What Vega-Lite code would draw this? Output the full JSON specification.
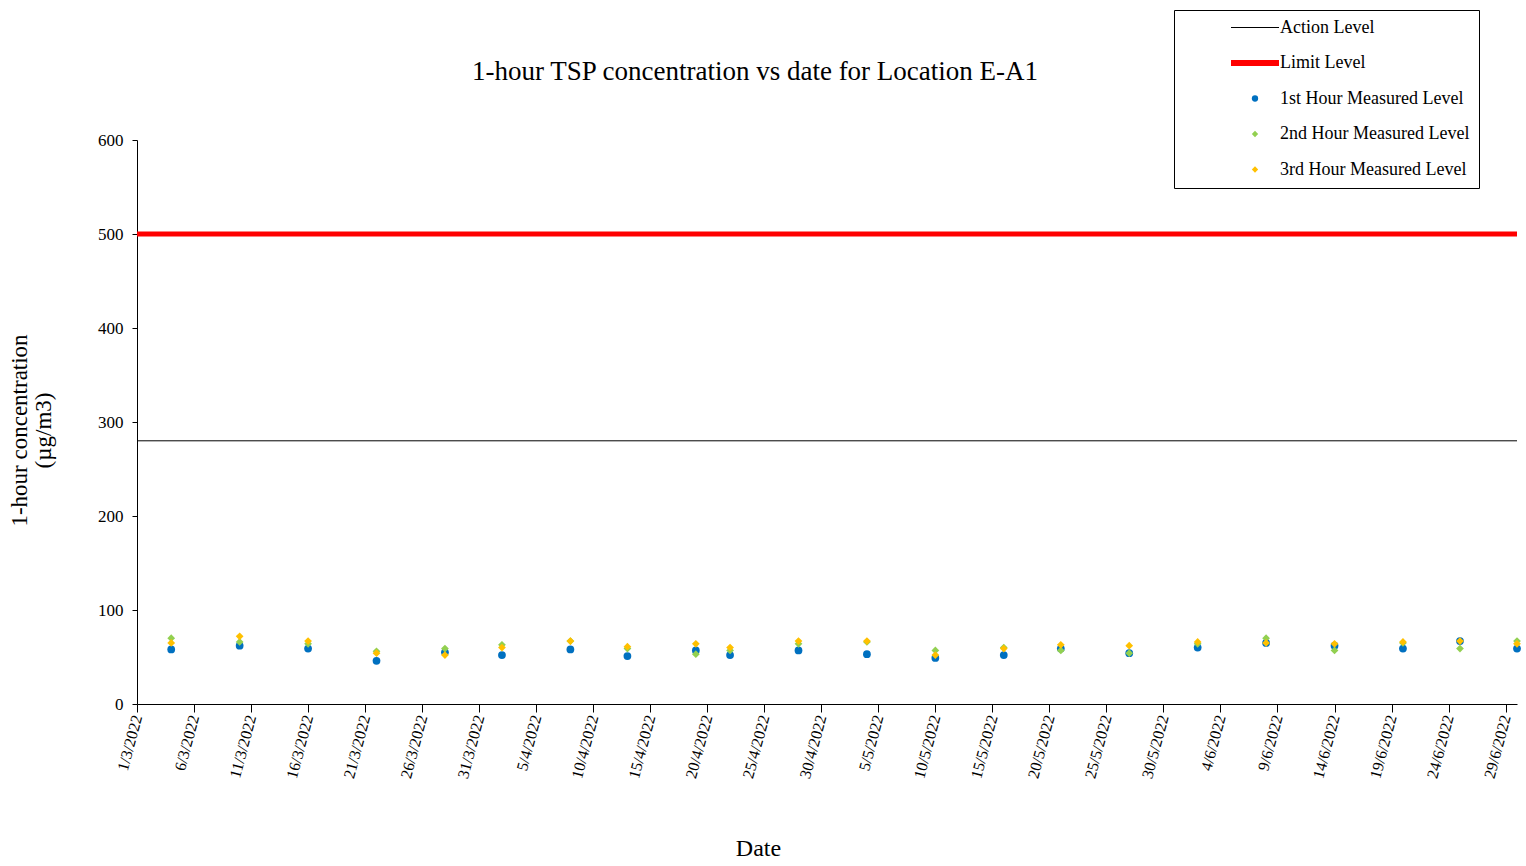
{
  "$schema": "https://vega.github.io/schema/vega-lite/v6.json",
  "autosize": "none",
  "width": 1380,
  "height": 564,
  "padding": {"left": 137, "top": 140, "right": 9, "bottom": 162},
  "background": "white",
  "title": {
    "text": "1-hour TSP concentration vs date for Location E-A1",
    "font": "Liberation Serif",
    "fontSize": 27,
    "fontWeight": "normal",
    "color": "#000000",
    "frame": "group",
    "anchor": "middle",
    "dx": -72,
    "baseline": "alphabetic",
    "offset": -97
  },
  "datasets": {
    "levels": [
      {"series": "Action Level", "value": 280},
      {"series": "Limit Level", "value": 500}
    ],
    "points": [
      {"date": "2022/03/04", "series": "1st Hour Measured Level", "value": 58},
      {"date": "2022/03/10", "series": "1st Hour Measured Level", "value": 62},
      {"date": "2022/03/16", "series": "1st Hour Measured Level", "value": 59},
      {"date": "2022/03/22", "series": "1st Hour Measured Level", "value": 46},
      {"date": "2022/03/28", "series": "1st Hour Measured Level", "value": 55},
      {"date": "2022/04/02", "series": "1st Hour Measured Level", "value": 52},
      {"date": "2022/04/08", "series": "1st Hour Measured Level", "value": 58},
      {"date": "2022/04/13", "series": "1st Hour Measured Level", "value": 51},
      {"date": "2022/04/19", "series": "1st Hour Measured Level", "value": 57},
      {"date": "2022/04/22", "series": "1st Hour Measured Level", "value": 52},
      {"date": "2022/04/28", "series": "1st Hour Measured Level", "value": 57},
      {"date": "2022/05/04", "series": "1st Hour Measured Level", "value": 53},
      {"date": "2022/05/10", "series": "1st Hour Measured Level", "value": 49},
      {"date": "2022/05/16", "series": "1st Hour Measured Level", "value": 52},
      {"date": "2022/05/21", "series": "1st Hour Measured Level", "value": 59},
      {"date": "2022/05/27", "series": "1st Hour Measured Level", "value": 54},
      {"date": "2022/06/02", "series": "1st Hour Measured Level", "value": 60},
      {"date": "2022/06/08", "series": "1st Hour Measured Level", "value": 65},
      {"date": "2022/06/14", "series": "1st Hour Measured Level", "value": 62},
      {"date": "2022/06/20", "series": "1st Hour Measured Level", "value": 59},
      {"date": "2022/06/25", "series": "1st Hour Measured Level", "value": 67},
      {"date": "2022/06/30", "series": "1st Hour Measured Level", "value": 59},
      {"date": "2022/03/04", "series": "2nd Hour Measured Level", "value": 70},
      {"date": "2022/03/10", "series": "2nd Hour Measured Level", "value": 66},
      {"date": "2022/03/16", "series": "2nd Hour Measured Level", "value": 64},
      {"date": "2022/03/22", "series": "2nd Hour Measured Level", "value": 56},
      {"date": "2022/03/28", "series": "2nd Hour Measured Level", "value": 59},
      {"date": "2022/04/02", "series": "2nd Hour Measured Level", "value": 63},
      {"date": "2022/04/08", "series": "2nd Hour Measured Level", "value": 67},
      {"date": "2022/04/13", "series": "2nd Hour Measured Level", "value": 59},
      {"date": "2022/04/19", "series": "2nd Hour Measured Level", "value": 53},
      {"date": "2022/04/22", "series": "2nd Hour Measured Level", "value": 57},
      {"date": "2022/04/28", "series": "2nd Hour Measured Level", "value": 64},
      {"date": "2022/05/04", "series": "2nd Hour Measured Level", "value": 66},
      {"date": "2022/05/10", "series": "2nd Hour Measured Level", "value": 57},
      {"date": "2022/05/16", "series": "2nd Hour Measured Level", "value": 60},
      {"date": "2022/05/21", "series": "2nd Hour Measured Level", "value": 57},
      {"date": "2022/05/27", "series": "2nd Hour Measured Level", "value": 54},
      {"date": "2022/06/02", "series": "2nd Hour Measured Level", "value": 64},
      {"date": "2022/06/08", "series": "2nd Hour Measured Level", "value": 70},
      {"date": "2022/06/14", "series": "2nd Hour Measured Level", "value": 57},
      {"date": "2022/06/20", "series": "2nd Hour Measured Level", "value": 65},
      {"date": "2022/06/25", "series": "2nd Hour Measured Level", "value": 59},
      {"date": "2022/06/30", "series": "2nd Hour Measured Level", "value": 67},
      {"date": "2022/03/04", "series": "3rd Hour Measured Level", "value": 65},
      {"date": "2022/03/10", "series": "3rd Hour Measured Level", "value": 72},
      {"date": "2022/03/16", "series": "3rd Hour Measured Level", "value": 67},
      {"date": "2022/03/22", "series": "3rd Hour Measured Level", "value": 54},
      {"date": "2022/03/28", "series": "3rd Hour Measured Level", "value": 52},
      {"date": "2022/04/02", "series": "3rd Hour Measured Level", "value": 60},
      {"date": "2022/04/08", "series": "3rd Hour Measured Level", "value": 67},
      {"date": "2022/04/13", "series": "3rd Hour Measured Level", "value": 61},
      {"date": "2022/04/19", "series": "3rd Hour Measured Level", "value": 64},
      {"date": "2022/04/22", "series": "3rd Hour Measured Level", "value": 60},
      {"date": "2022/04/28", "series": "3rd Hour Measured Level", "value": 67},
      {"date": "2022/05/04", "series": "3rd Hour Measured Level", "value": 67},
      {"date": "2022/05/10", "series": "3rd Hour Measured Level", "value": 52},
      {"date": "2022/05/16", "series": "3rd Hour Measured Level", "value": 59},
      {"date": "2022/05/21", "series": "3rd Hour Measured Level", "value": 63},
      {"date": "2022/05/27", "series": "3rd Hour Measured Level", "value": 62},
      {"date": "2022/06/02", "series": "3rd Hour Measured Level", "value": 66},
      {"date": "2022/06/08", "series": "3rd Hour Measured Level", "value": 65},
      {"date": "2022/06/14", "series": "3rd Hour Measured Level", "value": 64},
      {"date": "2022/06/20", "series": "3rd Hour Measured Level", "value": 66},
      {"date": "2022/06/25", "series": "3rd Hour Measured Level", "value": 67},
      {"date": "2022/06/30", "series": "3rd Hour Measured Level", "value": 64}
    ]
  },
  "encoding": {
    "y": {
      "field": "value",
      "type": "quantitative",
      "scale": {"domain": [0, 600], "nice": false, "zero": true},
      "axis": {
        "title": ["1-hour concentration", "(µg/m3)"],
        "values": [0, 100, 200, 300, 400, 500, 600],
        "titleFontSize": 23,
        "titleLineHeight": 24,
        "titlePadding": 42,
        "titleY": 290,
        "labelFontSize": 17,
        "labelPadding": 9,
        "tickSize": 5
      }
    },
    "color": {
      "field": "series",
      "type": "nominal",
      "scale": {
        "domain": ["Action Level", "Limit Level", "1st Hour Measured Level", "2nd Hour Measured Level", "3rd Hour Measured Level"],
        "range": ["#000000", "#FF0000", "#0070C0", "#92D050", "#FFC000"]
      },
      "legend": {
        "title": null,
        "orient": "none",
        "legendX": 1037,
        "legendY": -130,
        "strokeColor": "#000000",
        "fillColor": "#FFFFFF",
        "padding": 9,
        "clipHeight": 17,
        "rowPadding": 16.5,
        "symbolSize": 2304,
        "symbolOffset": 63,
        "labelOffset": 16,
        "labelFont": "Liberation Serif",
        "labelFontSize": 18,
        "labelColor": "#000000",
        "labelLimit": 600,
        "labelExpr": "datum.label + '\u00a0\u00a0\u00a0\u00a0\u00a0\u00a0\u00a0\u00a0\u00a0\u00a0\u00a0\u00a0\u00a0\u00a0'",
        "encode": {
          "symbols": {
            "update": {
              "shape": {"signal": "(datum.value === 'Action Level' || datum.value === 'Limit Level') ? 'stroke' : (datum.value === '1st Hour Measured Level' ? 'circle' : 'diamond')"},
              "size": {"signal": "(datum.value === 'Action Level' || datum.value === 'Limit Level') ? 2304 : 40"},
              "strokeWidth": {"signal": "datum.value === 'Limit Level' ? 6 : (datum.value === 'Action Level' ? 1 : 0)"},
              "fill": {"signal": "scale('color', datum.value)"},
              "stroke": {"signal": "scale('color', datum.value)"},
              "opacity": {"value": 1},
              "fillOpacity": {"value": 1},
              "strokeOpacity": {"value": 1}
            }
          }
        }
      }
    }
  },
  "layer": [
    {
      "data": {"name": "levels"},
      "mark": {"type": "rule"},
      "encoding": {
        "strokeWidth": {"condition": {"test": "datum.series === 'Limit Level'", "value": 5}, "value": 1}
      }
    },
    {
      "data": {"name": "points"},
      "mark": {"type": "point", "filled": true, "size": 60, "opacity": 1},
      "encoding": {
        "x": {
          "field": "date",
          "type": "temporal",
          "title": "Date",
          "scale": {"domain": [{"year": 2022, "month": 3, "date": 1}, {"year": 2022, "month": 6, "date": 30}]},
          "axis": {
            "values": [
              {"year": 2022, "month": 3, "date": 1}, {"year": 2022, "month": 3, "date": 6}, {"year": 2022, "month": 3, "date": 11},
              {"year": 2022, "month": 3, "date": 16}, {"year": 2022, "month": 3, "date": 21}, {"year": 2022, "month": 3, "date": 26},
              {"year": 2022, "month": 3, "date": 31}, {"year": 2022, "month": 4, "date": 5}, {"year": 2022, "month": 4, "date": 10},
              {"year": 2022, "month": 4, "date": 15}, {"year": 2022, "month": 4, "date": 20}, {"year": 2022, "month": 4, "date": 25},
              {"year": 2022, "month": 4, "date": 30}, {"year": 2022, "month": 5, "date": 5}, {"year": 2022, "month": 5, "date": 10},
              {"year": 2022, "month": 5, "date": 15}, {"year": 2022, "month": 5, "date": 20}, {"year": 2022, "month": 5, "date": 25},
              {"year": 2022, "month": 5, "date": 30}, {"year": 2022, "month": 6, "date": 4}, {"year": 2022, "month": 6, "date": 9},
              {"year": 2022, "month": 6, "date": 14}, {"year": 2022, "month": 6, "date": 19}, {"year": 2022, "month": 6, "date": 24},
              {"year": 2022, "month": 6, "date": 29}
            ],
            "format": "%-d/%-m/%Y",
            "labelAngle": -75,
            "labelFontSize": 16,
            "labelPadding": 3,
            "tickSize": 8,
            "labelOverlap": false,
            "labelBound": false,
            "labelFlush": false,
            "titleFontSize": 24,
            "titleX": 621,
            "titleY": 151,
            "titleBaseline": "alphabetic",
            "titleAnchor": null,
            "titleAlign": "center"
          }
        },
        "shape": {"condition": {"test": "datum.series === '1st Hour Measured Level'", "value": "circle"}, "value": "diamond"}
      }
    }
  ],
  "config": {
    "view": {"stroke": null},
    "axis": {
      "grid": false,
      "domainColor": "#000000",
      "tickColor": "#000000",
      "labelColor": "#000000",
      "titleColor": "#000000",
      "labelFont": "Liberation Serif",
      "titleFont": "Liberation Serif",
      "titleFontWeight": "normal"
    }
  }
}
